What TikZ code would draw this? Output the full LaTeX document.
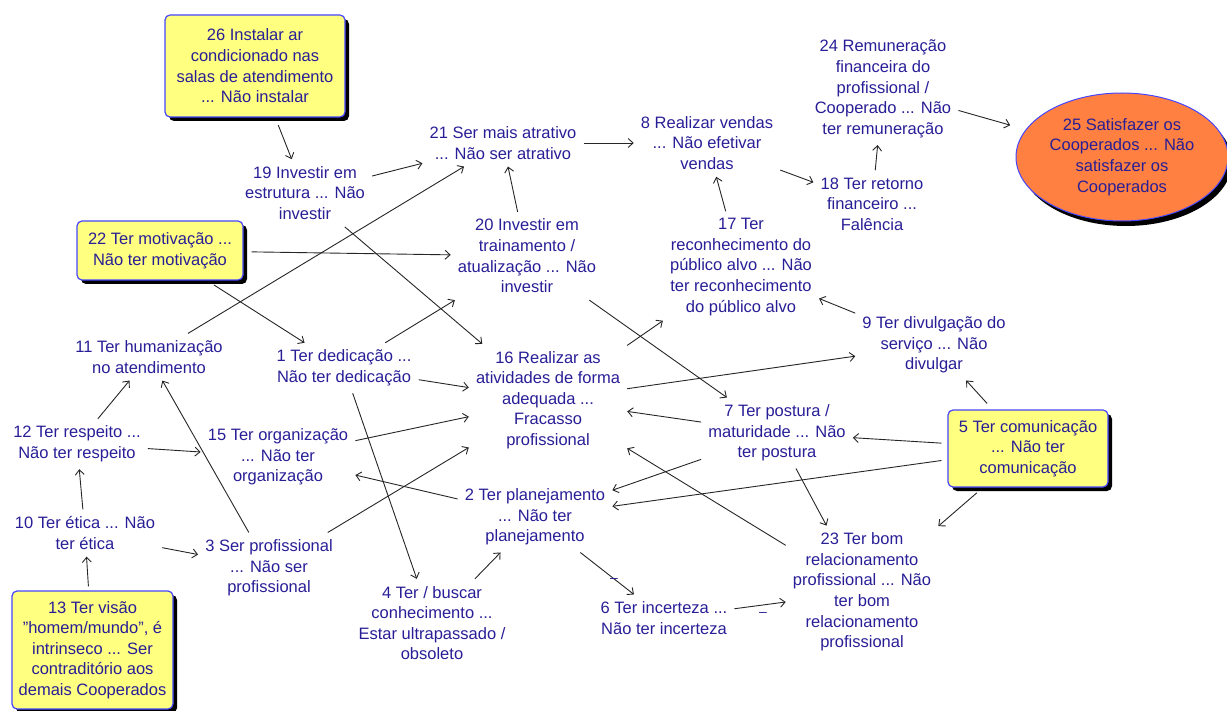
\documentclass[tikz,border=0pt]{standalone}
\usepackage{fontspec}
\setmainfont{Liberation Sans}
\usetikzlibrary{arrows.meta,shadows,shapes.geometric}
\definecolor{ink}{RGB}{40,30,150}
\definecolor{boxfill}{RGB}{255,255,128}
\definecolor{boxline}{RGB}{70,70,255}
\definecolor{goalfill}{RGB}{255,128,64}
\begin{document}
\begin{tikzpicture}[x=1pt,y=-1pt,
  font=\fontsize{16.5}{20.6}\selectfont,
  txt/.style={align=center, text=ink, inner sep=7pt},
  keybox/.style={align=center, text=ink, inner sep=3pt, draw=boxline, fill=boxfill,
    line width=1.2pt, rounded corners=5pt,
    drop shadow={shadow xshift=4pt, shadow yshift=-4pt, fill=black, opacity=1}},
  goal/.style={align=center, text=ink, ellipse, inner sep=0pt, draw=boxline, fill=goalfill,
    line width=1pt,
    drop shadow={shadow xshift=4pt, shadow yshift=-5pt, fill=black, opacity=1}},
  link/.style={draw=black!85, line width=0.9pt, -{Straight Barb[length=5pt,width=9pt]}},
  sign/.style={text=ink, inner sep=0pt, font=\fontsize{14}{14}\selectfont},
]
\useasboundingbox (0,0) rectangle (1227,711);

% key concepts (yellow boxes)
\node[keybox, minimum width=180pt, minimum height=102pt] (n26) at (255,66)
  {26 Instalar ar\\condicionado nas\\salas de atendimento\\... Não instalar};
\node[keybox, minimum width=166pt, minimum height=59pt] (n22) at (160,250.5)
  {22 Ter motivação ...\\Não ter motivação};
\node[keybox, minimum width=160pt, minimum height=77pt] (n5) at (1028,448.5)
  {5 Ter comunicação\\... Não ter\\comunicação};
\node[keybox, minimum width=161pt, minimum height=118pt] (n13) at (92.5,650)
  {13 Ter visão\\{\char34}homem/mundo{\char34}, é\\intrinseco ... Ser\\contraditório aos\\demais Cooperados};

% goal
\node[goal, minimum width=212pt, minimum height=128pt] (n25) at (1122,157)
  {25 Satisfazer os\\Cooperados ... Não\\satisfazer os\\Cooperados};

% concepts
\node[txt] (n19) at (305,193) {19 Investir em\\estrutura ... Não\\investir};
\node[txt] (n21) at (503,143) {21 Ser mais atrativo\\... Não ser atrativo};
\node[txt] (n8) at (707,143) {8 Realizar vendas\\... Não efetivar\\vendas};
\node[txt] (n24) at (883,89) {24 Remuneração\\financeira do\\profissional /\\Cooperado ... Não\\ter remuneração};
\node[txt] (n18) at (872,204) {18 Ter retorno\\financeiro ...\\Falência};
\node[txt] (n20) at (527,256) {20 Investir em\\trainamento /\\atualização ... Não\\investir};
\node[txt] (n17) at (741,267) {17 Ter\\reconhecimento do\\público alvo ... Não\\ter reconhecimento\\do público alvo};
\node[txt] (n9) at (934,345) {9 Ter divulgação do\\serviço ... Não\\divulgar};
\node[txt] (n11) at (149,357) {11 Ter humanização\\no atendimento};
\node[txt] (n1) at (344,368) {1 Ter dedicação ...\\Não ter dedicação};
\node[txt] (n16) at (548,400) {16 Realizar as\\atividades de forma\\adequada ...\\Fracasso\\profissional};
\node[txt] (n12) at (77,444) {12 Ter respeito ...\\Não ter respeito};
\node[txt] (n15) at (278,457) {15 Ter organização\\... Não ter\\organização};
\node[txt] (n7) at (777,433) {7 Ter postura /\\maturidade ... Não\\ter postura};
\node[txt] (n10) at (85,533) {10 Ter ética ... Não\\ter ética};
\node[txt] (n3) at (269,568) {3 Ser profissional\\... Não ser\\profissional};
\node[txt] (n2) at (535,517) {2 Ter planejamento\\... Não ter\\planejamento};
\node[txt] (n4) at (432,623) {4 Ter / buscar\\conhecimento ...\\Estar ultrapassado /\\obsoleto};
\node[txt] (n6) at (664,618) {6 Ter incerteza ...\\Não ter incerteza};
\node[txt] (n23) at (862,592) {23 Ter bom\\relacionamento\\profissional ... Não\\ter bom\\relacionamento\\profissional};

% links
\draw[link, shorten <=8pt] (n26) -- (n19);
\draw[link] (n19) -- (n21);
\draw[link] (n11) -- (n21);
\draw[link] (n20) -- (n21);
\draw[link] (n21) -- (n8);
\draw[link] (n8) -- (n18);
\draw[link] (n17) -- (n8);
\draw[link] (n18) -- (n24);
\draw[link, shorten >=16pt] (n24) -- (n25);
\draw[link, shorten <=8pt] (n22) -- (n20);
\draw[link, shorten <=8pt] (n22) -- (n1);
\draw[link] (n19) -- (n16);
\draw[link] (n1) -- (n20);
\draw[link] (n1) -- (n16);
\draw[link] (n1) -- (n4);
\draw[link] (n15) -- (n16);
\draw[link] (n3) -- (n16);
\draw[link] (n3) -- (n11);
\draw[link] (n12) -- (n11);
\draw[link] (n12) -- (n15);
\draw[link] (n10) -- (n12);
\draw[link] (n10) -- (n3);
\draw[link, shorten <=4pt] (n13) -- (n10);
\draw[link] (n2) -- (n15);
\draw[link] (n4) -- (n2);
\draw[link] (n2) -- (n6);
\draw[link] (n6) -- (n23);
\draw[link] (n16) -- (n17);
\draw[link] (n20) -- (n7);
\draw[link] (n16) -- (n9);
\draw[link] (n9) -- (n17);
\draw[link] (n7) -- (n16);
\draw[link] (n23) -- (n16);
\draw[link] (n7) -- (n2);
\draw[link, shorten <=6pt] (n5) -- (n2);
\draw[link, shorten <=6pt] (n5) -- (n7);
\draw[link] (n7) -- (n23);
\draw[link, shorten <=8pt] (n5) -- (n23);
\draw[link, shorten <=8pt] (n5) -- (n9);

% polarity marks
\node[sign] (m26) at (614,580) {–};
\node[sign] (m623) at (763,614) {–};
\end{tikzpicture}
\end{document}
